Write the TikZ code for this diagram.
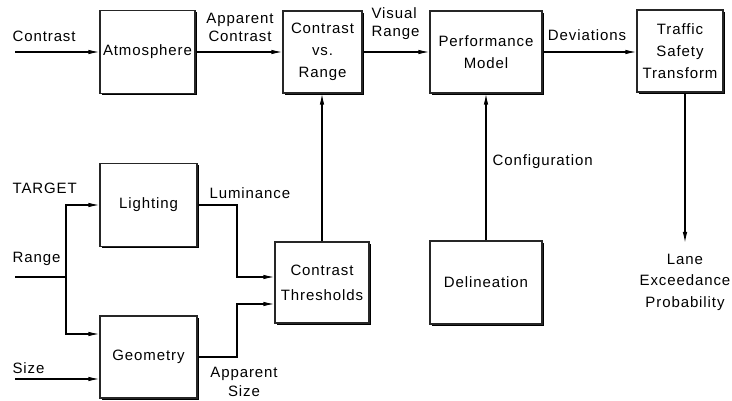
\documentclass[tikz,border=0pt]{standalone}
\usepackage{fontspec}
\setmainfont{Liberation Sans}[LetterSpace=6]
\usetikzlibrary{arrows.meta,shadows,calc}
\begin{document}
\begin{tikzpicture}[x=1pt,y=-1pt,
  font=\fontsize{15}{22}\selectfont,
  line width=1.2pt,
  blk/.style={draw=black!85,fill=white,align=center,inner sep=0pt,
    drop shadow={shadow xshift=1.6pt,shadow yshift=-1.8pt,fill=black,opacity=1}},
  arr/.style={-{Latex[length=11pt,width=4.5pt]}},
  lbl/.style={align=center,inner sep=0pt}]
\useasboundingbox (0,0) rectangle (732,401);
% boxes
\node[blk,minimum width=95pt,minimum height=83pt] (atm) at (147.5,52) {Atmosphere};
\node[blk,minimum width=79pt,minimum height=82pt] (cvr) at (322.5,52) {Contrast\\vs.\\Range};
\node[blk,minimum width=112pt,minimum height=82pt] (perf) at (486,52) {Performance\\Model};
\node[blk,minimum width=86pt,minimum height=82pt] (tst) at (680,51) {Traffic\\Safety\\Transform};
\node[blk,minimum width=97pt,minimum height=83pt] (light) at (148.5,205) {Lighting};
\node[blk,minimum width=94pt,minimum height=81pt] (ct) at (322,282.5) {Contrast\\[3pt]Thresholds};
\node[blk,minimum width=97pt,minimum height=82pt] (geom) at (148.5,357) {Geometry};
\node[blk,minimum width=112pt,minimum height=83pt] (del) at (486,282.5) {Delineation};
% free ends
\coordinate (cin) at (15,52);
\coordinate (rin) at (15,277);
\coordinate (br) at (66,277);
\coordinate (sin) at (15,379);
\coordinate (lumx) at (237,205);
\coordinate (sizx) at (237,357);
\coordinate (lane) at (685,243);
% connectors
\draw[arr] (cin) -- (cin -| atm.west);
\draw[arr] (atm.east) -- (atm.east -| cvr.west);
\draw[arr] (cvr.east) -- (cvr.east -| perf.west);
\draw[arr] (perf.east) -- (perf.east -| tst.west);
\draw[arr] (tst.south -| lane) -- (lane);
\draw[arr] (del.north) -- (perf.south);
\draw[arr] (ct.north) -- (ct.north |- cvr.south);
\draw (rin) -- (br);
\draw[arr] (br) |- (light.west);
\draw[arr] (br) |- ([yshift=23pt]geom.west);
\draw[arr] (sin) -- ([yshift=-22pt]geom.west);
\draw[arr] (light.east) -- (lumx) |- ([yshift=5.5pt]ct.west);
\draw[arr] (geom.east) -- (sizx) |- ([yshift=-21.5pt]ct.west);
% labels
\node[lbl,anchor=west] (l1) at (12,36) {Contrast};
\node[lbl,font=\fontsize{15}{18}\selectfont] (l2) at (240,27) {Apparent\\Contrast};
\node[lbl,align=left,anchor=west,font=\fontsize{15}{18}\selectfont] (l3) at (371,24) {Visual\\Range};
\node[lbl] (l4) at (587,35) {Deviations};
\node[lbl,anchor=west] (l5) at (492,162) {Configuration};
\node[lbl,anchor=west] (l6) at (209,193) {Luminance};
\node[lbl,font=\fontsize{15}{19}\selectfont] (l7) at (244,382) {Apparent\\Size};
\node[lbl,anchor=west] (l8) at (12,188) {TARGET};
\node[lbl,anchor=west] (l9) at (12,259) {Range};
\node[lbl,anchor=west] (l10) at (12,368) {Size};
\node[lbl,font=\fontsize{15}{21.5}\selectfont] (l11) at (685,282) {Lane\\Exceedance\\Probability};
\end{tikzpicture}
\end{document}
